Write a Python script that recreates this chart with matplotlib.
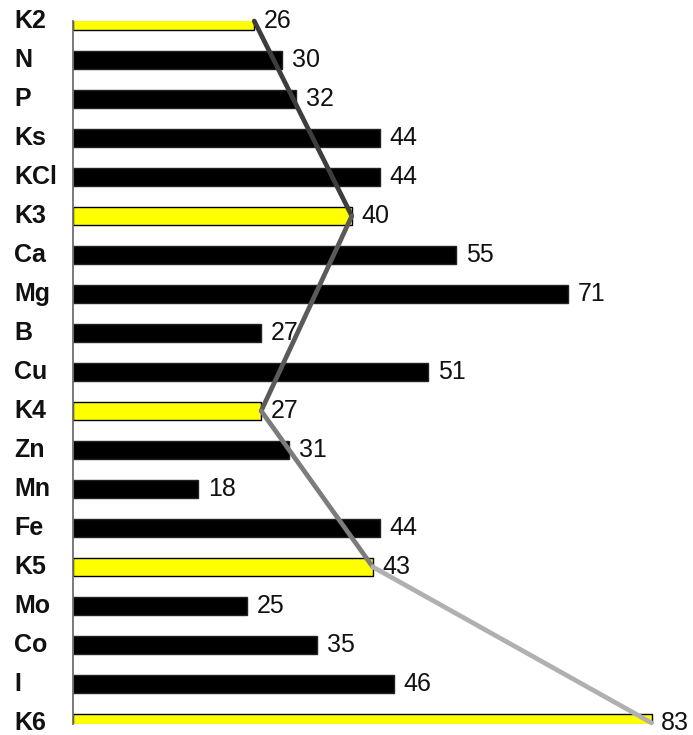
import matplotlib.pyplot as plt
from matplotlib import transforms

plt.rcParams['font.family'] = ['Liberation Sans', 'DejaVu Sans']

labels = ['K2', 'N', 'P', 'Ks', 'KCl', 'K3', 'Ca', 'Mg', 'B', 'Cu',
          'K4', 'Zn', 'Mn', 'Fe', 'K5', 'Mo', 'Co', 'I', 'K6']
values = [26, 30, 32, 44, 44, 40, 55, 71, 27, 51,
          27, 31, 18, 44, 43, 25, 35, 46, 83]
# control points (K*) get yellow bars and are joined by a line
controls = ['K2', 'K3', 'K4', 'K5', 'K6']
seg_colors = ['#3d3d3d', '#5a5a5a', '#7c7c7c', '#b0b0b0']

fig = plt.figure(figsize=(6.93, 7.35), dpi=100)
ax = fig.add_axes([73 / 693, 11 / 735, 620 / 693, 703 / 735])

ypos = list(range(len(labels)))
colors = ['#ffff00' if l in controls else 'black' for l in labels]
edges = ['black' if l in controls else '#222222' for l in labels]
ax.barh(ypos, values, height=0.47, color=colors, edgecolor=edges,
        linewidth=1.0, zorder=2)

# trend line through the control bar ends
cy = [labels.index(c) for c in controls]
cx = [values[i] for i in cy]
for i in range(len(cy) - 1):
    ax.plot(cx[i:i + 2], cy[i:i + 2], color=seg_colors[i], lw=3.4,
            solid_capstyle='round', zorder=3, clip_on=False)

for y, v in zip(ypos, values):
    ax.annotate(str(v), (v, y), xytext=(7, 0), textcoords='offset points',
                ha='left', va='center', fontsize=18, color='#111111')

trans = transforms.blended_transform_factory(fig.transFigure, ax.transData)
for y, l in zip(ypos, labels):
    ax.text(14 / 693, y, l, transform=trans, ha='left', va='center',
            fontsize=18, fontweight='bold', color='#111111')

ax.set_xlim(0, 88.95)
ax.set_ylim(18.03, 0)
ax.set_xticks([])
ax.set_yticks([])
for s in ['top', 'right', 'bottom']:
    ax.spines[s].set_visible(False)
ax.spines['left'].set_color('#6e6e6e')
ax.spines['left'].set_linewidth(1.3)

fig.savefig('out.png', dpi=100)
